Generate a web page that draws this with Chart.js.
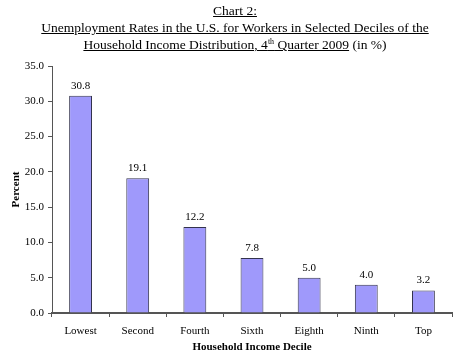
<!DOCTYPE html>
<html><head><meta charset="utf-8">
<script src="https://cdn.jsdelivr.net/npm/chart.js@4/dist/chart.umd.min.js"></script>
<style>
html,body{margin:0;padding:0;background:#fff;}
#wrap{position:relative;width:470px;height:358px;}
#title{position:absolute;left:0;top:2px;width:470px;text-align:center;font-family:'Liberation Serif','Times New Roman',serif;font-size:13.5px;line-height:17px;color:#000;}
#title u{text-decoration:underline;text-underline-offset:1px;}
#title sup{font-size:8px;line-height:0;vertical-align:5px;}
canvas{position:absolute;left:0;top:0;}
</style></head>
<body><div id="wrap">
<canvas id="c" width="470" height="358"></canvas>
<div id="title"><u>Chart 2:</u><br><u>Unemployment Rates in the U.S. for Workers in Selected Deciles of the</u><br><u>Household Income Distribution, 4<sup>th</sup> Quarter 2009</u> (in %)</div>
</div>
<script>
const categories = ['Lowest','Second','Fourth','Sixth','Eighth','Ninth','Top'];
const rates = [30.8, 19.1, 12.2, 7.8, 5.0, 4.0, 3.2];
const yTicks = [0,5,10,15,20,25,30,35];
const yTitle = 'Percent';
const xTitle = 'Household Income Decile';

const serif = "'Liberation Serif','Times New Roman',serif";

const valueLabels = {
  id:'valueLabels',
  afterDatasetsDraw(chart){
    const ctx = chart.ctx;
    const meta = chart.getDatasetMeta(0);
    ctx.save();
    ctx.font = '11px ' + serif;
    ctx.fillStyle = '#000';
    ctx.textAlign = 'center';
    ctx.textBaseline = 'middle';
    meta.data.forEach((bar,i)=>{
      ctx.fillText(rates[i].toFixed(1), bar.x, bar.y - 10);
    });
    ctx.restore();
  }
};

new Chart(document.getElementById('c'), {
  type:'bar',
  data:{labels:categories, datasets:[{data:rates, backgroundColor:'#9f99fb', borderColor:'#33334d', borderWidth:1, barPercentage:0.4, categoryPercentage:1.0}]},
  options:{
    responsive:false, animation:false,
    layout:{padding:{top:66,right:18,left:0,bottom:0}},
    plugins:{legend:{display:false}, tooltip:{enabled:false}, title:{display:false}},
    scales:{
      x:{
        afterFit(s){ s.height = 45; },
        grid:{display:true, drawOnChartArea:false, drawTicks:true, tickLength:4, color:'#555', offset:true},
        border:{display:true, color:'#555', width:2},
        ticks:{font:{family:serif,size:11}, color:'#000', padding:8, maxRotation:0},
        title:{display:true, text:xTitle, font:{family:serif,size:11,weight:'bold'}, color:'#000', padding:{top:0,bottom:4}}
      },
      y:{
        min:0, max:35,
        afterFit(s){ s.width = 52; },
        afterBuildTicks(s){ s.ticks = yTicks.map(v=>({value:v})); },
        grid:{display:true, drawOnChartArea:false, drawTicks:true, tickLength:4, color:'#555'},
        border:{display:true, color:'#555', width:1},
        ticks:{font:{family:serif,size:11}, color:'#000', padding:4, callback:v=>Number(v).toFixed(1)},
        title:{display:true, text:yTitle, font:{family:serif,size:11,weight:'bold'}, color:'#000', padding:{top:10,bottom:0}}
      }
    }
  },
  plugins:[valueLabels]
});
</script>
</body></html>
